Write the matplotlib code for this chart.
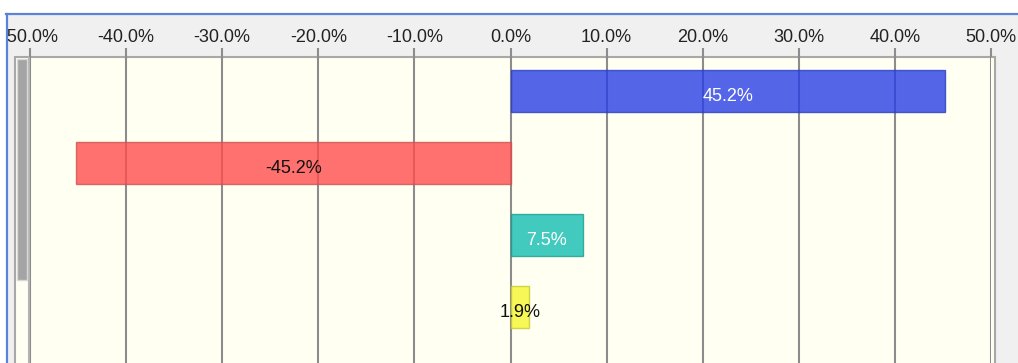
import matplotlib
matplotlib.use("Agg")
import matplotlib.pyplot as plt
from matplotlib.patches import Rectangle
from matplotlib.lines import Line2D
from matplotlib.ticker import FixedLocator

# Data
categories = ["A", "B", "C", "D"]
values = [45.2, -45.2, 7.5, 1.9]
labels = ["45.2%", "-45.2%", "7.5%", "1.9%"]
bar_colors = ["#2a3ee6", "#ff4d4d", "#14bdb3", "#f5f531"]
edge_colors = ["#2c3cc0", "#d05050", "#1a9c94", "#c8c830"]
label_colors = ["white", "#111111", "white", "#111111"]
tick_values = [-50, -40, -30, -20, -10, 0, 10, 20, 30, 40, 50]
tick_labels = ["-50.0%", "-40.0%", "-30.0%", "-20.0%", "-10.0%", "0.0%",
               "10.0%", "20.0%", "30.0%", "40.0%", "50.0%"]

W, H = 1018, 363
plt.rcParams["font.family"] = ["Liberation Sans", "DejaVu Sans"]
fig = plt.figure(figsize=(W / 100, H / 100), dpi=100, facecolor="white")


def fx(x):
    return x / W


def fy(y):
    return 1 - y / H


def prect(x0, y0, x1, y1, **kw):
    r = Rectangle((fx(x0), fy(y1)), fx(x1) - fx(x0), fy(y0) - fy(y1),
                  transform=fig.transFigure, **kw)
    fig.patches.append(r)
    return r


def pline(xs, ys, **kw):
    ln = Line2D([fx(x) for x in xs], [fy(y) for y in ys],
                transform=fig.transFigure, **kw)
    fig.lines.append(ln)
    return ln


# Outer panel
prect(7, 14, W + 2, H + 2, facecolor="#f0f0f0", edgecolor="none", zorder=-5)
# Plot background with frame
prect(14.5, 57, 994.5, H + 5, facecolor="#fffff2", edgecolor="#a8a8a8",
      linewidth=1.5, zorder=-4)
# Scroll strip
pline([29, 29], [57, H], color="#b4b4b4", linewidth=1.5, zorder=-3)
prect(17, 59, 27, 280, facecolor="#a4a4a4", edgecolor="#d8d8d8",
      linewidth=1.0, zorder=-3)

# Axes spanning the value range
ax = fig.add_axes([fx(30), fy(H), fx(991) - fx(30), fy(57) - fy(H)])
ax.set_facecolor("none")
for s in ax.spines.values():
    s.set_visible(False)

ypos = list(range(len(categories)))
ax.set_xlim(-50, 50)
ax.set_ylim(3.778, -0.472)

ax.barh(ypos, values, height=0.57, color=bar_colors, edgecolor=edge_colors,
        linewidth=1.0, alpha=0.8, zorder=3)

for y, v, lab, c in zip(ypos, values, labels, label_colors):
    ax.text(v / 2, y + 0.07, lab, ha="center", va="center", fontsize=13,
            color=c, zorder=4)

ax.xaxis.set_major_locator(FixedLocator(tick_values))
ax.set_xticklabels(tick_labels)
ax.xaxis.tick_top()
ax.tick_params(axis="x", which="major", direction="out", length=6.5,
               width=1.5, color="#8c8c8c", labelsize=13, pad=1.5,
               labelcolor="#222222")
ax.set_yticks([])
ax.grid(axis="x", color="#8c8c8c", linewidth=1.5, zorder=1)
ax.set_axisbelow(True)

# Edge of the panel (covers whatever spills past it)
prect(0, 0, 6, H, facecolor="white", edgecolor="none", zorder=5)
prect(0, 0, W, 13, facecolor="white", edgecolor="none", zorder=5)
pline([7, 7], [13.5, H], color="#5a82d8", linewidth=1.6, zorder=6)
pline([6.2, W], [14, 14], color="#5a82d8", linewidth=1.6, zorder=6)

fig.savefig("out.png", dpi=100, facecolor=fig.get_facecolor())
